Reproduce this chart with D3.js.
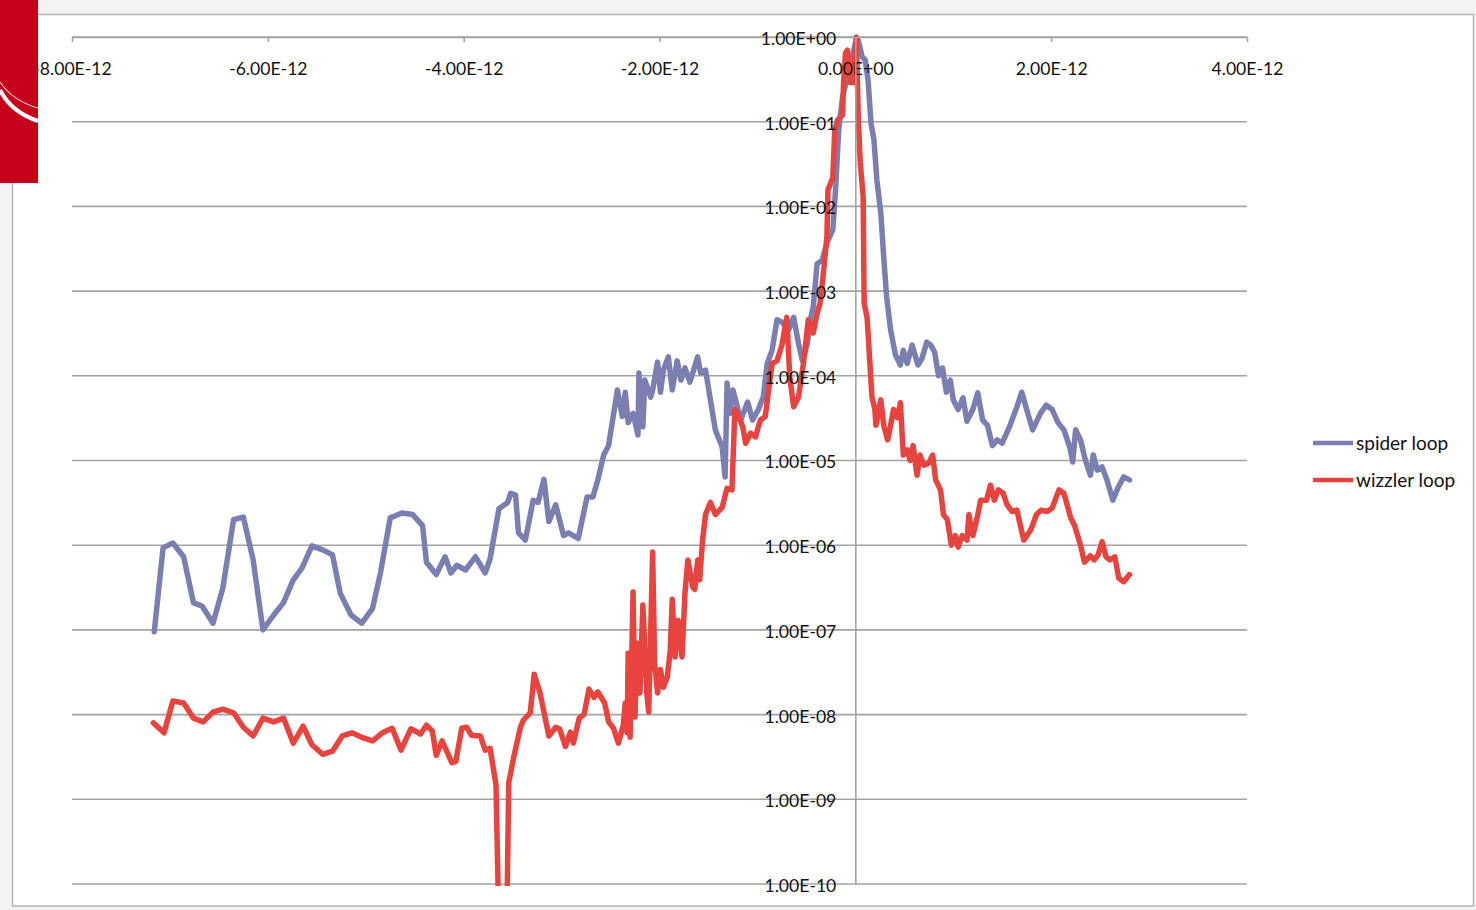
<!DOCTYPE html>
<html>
<head>
<meta charset="utf-8">
<script src="https://cdn.jsdelivr.net/npm/d3@7"></script>
<style>
  body { margin: 0; background: #f3f3f3; }
  svg { display: block; font-family: Lato, 'Open Sans', sans-serif; }
</style>
</head>
<body>
<svg id="chart" width="1476" height="910"></svg>
<script>
// x in picoseconds (axis labels show seconds), y on a log scale
var xTicks = [-8, -6, -4, -2, 0, 2, 4]
var xTickLabels = ['-8.00E-12', '-6.00E-12', '-4.00E-12', '-2.00E-12', '0.00E+00', '2.00E-12', '4.00E-12']
var yTicks = [1, 1e-1, 1e-2, 1e-3, 1e-4, 1e-5, 1e-6, 1e-7, 1e-8, 1e-9, 1e-10]
var yTickLabels = ['1.00E+00', '1.00E-01', '1.00E-02', '1.00E-03', '1.00E-04', '1.00E-05',
  '1.00E-06', '1.00E-07', '1.00E-08', '1.00E-09', '1.00E-10']
var seriesNames = ['spider loop', 'wizzler loop']
var seriesColors = ['#7b7eb0', '#e8443f']

var spider = [
  [-7.16, 9.5e-8], [-7.07, 9.3e-7], [-6.97, 1.06e-6], [-6.86, 7.3e-7], [-6.76, 2.1e-7], [-6.67, 1.9e-7],
  [-6.56, 1.2e-7], [-6.46, 3.1e-7], [-6.35, 2.0e-6], [-6.25, 2.15e-6], [-6.15, 6.7e-7], [-6.05, 1.0e-7],
  [-5.94, 1.5e-7], [-5.84, 2.1e-7], [-5.74, 3.9e-7], [-5.65, 5.4e-7], [-5.55, 9.8e-7], [-5.44, 8.8e-7],
  [-5.34, 7.7e-7], [-5.26, 2.7e-7], [-5.15, 1.5e-7], [-5.04, 1.2e-7], [-4.93, 1.8e-7], [-4.85, 4.7e-7],
  [-4.75, 2.1e-6], [-4.63, 2.4e-6], [-4.52, 2.3e-6], [-4.42, 1.7e-6], [-4.38, 6.3e-7], [-4.28, 4.5e-7],
  [-4.19, 7.3e-7], [-4.13, 4.7e-7], [-4.07, 5.8e-7], [-3.98, 5.1e-7], [-3.88, 7.3e-7], [-3.78, 4.7e-7],
  [-3.73, 6.9e-7], [-3.64, 2.7e-6], [-3.55, 3.2e-6], [-3.52, 4.1e-6], [-3.47, 3.9e-6], [-3.44, 1.4e-6],
  [-3.37, 1.15e-6], [-3.29, 3.4e-6], [-3.24, 3.2e-6], [-3.18, 6.0e-6], [-3.13, 1.9e-6], [-3.06, 3.0e-6],
  [-2.98, 1.3e-6], [-2.93, 1.4e-6], [-2.83, 1.2e-6], [-2.74, 3.7e-6], [-2.68, 3.7e-6], [-2.63, 5.9e-6],
  [-2.57, 1.16e-5], [-2.52, 1.5e-5], [-2.43, 6.8e-5], [-2.38, 3.3e-5], [-2.35, 6.4e-5], [-2.32, 2.8e-5],
  [-2.27, 3.6e-5], [-2.22, 2.0e-5], [-2.21, 1.08e-4], [-2.17, 2.5e-5], [-2.15, 8.9e-5], [-2.09, 5.6e-5],
  [-2.07, 6.8e-5], [-2.02, 1.45e-4], [-1.99, 6.4e-5], [-1.96, 1.17e-4], [-1.91, 1.67e-4], [-1.87, 6.8e-5],
  [-1.82, 1.5e-4], [-1.78, 8.9e-5], [-1.74, 1.24e-4], [-1.69, 8.4e-5], [-1.61, 1.67e-4], [-1.58, 1.08e-4],
  [-1.53, 1.17e-4], [-1.48, 5.2e-5], [-1.43, 2.3e-5], [-1.36, 1.44e-5], [-1.33, 6.4e-6], [-1.31, 8.2e-5],
  [-1.28, 3.6e-5], [-1.25, 6.8e-5], [-1.17, 3.0e-5], [-1.10, 4.9e-5], [-1.05, 3.0e-5], [-0.99, 4.0e-5],
  [-0.94, 5.6e-5], [-0.90, 1.4e-4], [-0.85, 2.0e-4], [-0.80, 4.6e-4], [-0.75, 4.3e-4], [-0.68, 3.5e-4],
  [-0.63, 4.9e-4], [-0.58, 2.4e-4], [-0.54, 1.5e-4], [-0.49, 2.4e-4], [-0.46, 4.6e-4], [-0.43, 6.5e-4],
  [-0.39, 2.1e-3], [-0.34, 2.3e-3], [-0.29, 3.7e-3], [-0.23, 5.3e-3], [-0.20, 1.7e-2], [-0.17, 8.0e-2],
  [-0.13, 1.96e-1], [-0.08, 3.4e-1], [-0.03, 5.8e-1], [0.00, 8.5e-1], [0.03, 9.2e-1], [0.07, 5.8e-1],
  [0.10, 5.4e-1], [0.13, 3.1e-1], [0.16, 9.6e-2], [0.19, 6.1e-2], [0.22, 2.05e-2], [0.26, 8.4e-3],
  [0.29, 2.5e-3], [0.32, 8.5e-4], [0.36, 3.5e-4], [0.41, 1.76e-4], [0.46, 1.34e-4], [0.49, 2.0e-4],
  [0.53, 1.4e-4], [0.58, 2.3e-4], [0.64, 1.34e-4], [0.68, 1.6e-4], [0.73, 2.5e-4], [0.77, 2.3e-4],
  [0.81, 1.9e-4], [0.85, 1.0e-4], [0.89, 1.24e-4], [0.93, 6.4e-5], [0.97, 8.9e-5], [1.00, 5.2e-5],
  [1.05, 4.0e-5], [1.10, 5.5e-5], [1.14, 2.9e-5], [1.20, 4.0e-5], [1.25, 6.3e-5], [1.30, 3.0e-5],
  [1.35, 2.6e-5], [1.40, 1.5e-5], [1.45, 1.75e-5], [1.50, 1.6e-5], [1.58, 2.6e-5], [1.65, 4.3e-5],
  [1.70, 6.4e-5], [1.75, 4.0e-5], [1.81, 2.3e-5], [1.89, 3.6e-5], [1.95, 4.5e-5], [2.01, 4.0e-5],
  [2.07, 2.8e-5], [2.13, 2.3e-5], [2.19, 1.44e-5], [2.22, 9.6e-6], [2.25, 2.3e-5], [2.30, 1.75e-5],
  [2.35, 1.0e-5], [2.40, 6.7e-6], [2.43, 1.16e-5], [2.47, 7.7e-6], [2.52, 8.4e-6], [2.57, 5.9e-6],
  [2.63, 3.4e-6], [2.68, 4.7e-6], [2.74, 6.4e-6], [2.80, 5.9e-6]
]

var wizzler = [
  [-7.17, 8.0e-9], [-7.06, 6.1e-9], [-6.97, 1.45e-8], [-6.86, 1.37e-8], [-6.76, 9.1e-9], [-6.66, 8.2e-9],
  [-6.56, 1.07e-8], [-6.46, 1.16e-8], [-6.35, 1.05e-8], [-6.25, 7.1e-9], [-6.15, 5.6e-9], [-6.05, 9.1e-9],
  [-5.94, 8.2e-9], [-5.84, 9.1e-9], [-5.74, 4.6e-9], [-5.64, 7.3e-9], [-5.55, 4.4e-9], [-5.44, 3.4e-9],
  [-5.34, 3.7e-9], [-5.24, 5.6e-9], [-5.14, 6.1e-9], [-5.04, 5.4e-9], [-4.93, 4.9e-9], [-4.83, 6.1e-9],
  [-4.73, 6.9e-9], [-4.64, 3.8e-9], [-4.54, 6.8e-9], [-4.44, 5.9e-9], [-4.38, 7.5e-9], [-4.32, 6.4e-9],
  [-4.28, 3.3e-9], [-4.22, 4.9e-9], [-4.12, 2.7e-9], [-4.08, 2.8e-9], [-4.02, 6.9e-9], [-3.97, 7.1e-9],
  [-3.92, 5.7e-9], [-3.83, 5.6e-9], [-3.78, 3.8e-9], [-3.73, 4.0e-9], [-3.67, 1.48e-9], [-3.64, 3e-11],
  [-3.56, 3e-11], [-3.54, 1.56e-9], [-3.49, 3.1e-9], [-3.42, 7.1e-9], [-3.39, 8.6e-9], [-3.32, 1.05e-8],
  [-3.28, 3.0e-8], [-3.22, 1.8e-8], [-3.13, 5.6e-9], [-3.06, 7.1e-9], [-3.02, 6.8e-9], [-2.96, 4.2e-9],
  [-2.91, 6.2e-9], [-2.88, 4.6e-9], [-2.82, 9.1e-9], [-2.77, 1.0e-8], [-2.72, 2.0e-8], [-2.67, 1.6e-8],
  [-2.63, 1.85e-8], [-2.56, 1.37e-8], [-2.52, 8.2e-9], [-2.47, 6.9e-9], [-2.42, 4.6e-9], [-2.37, 7.5e-9],
  [-2.35, 1.37e-8], [-2.33, 6.1e-9], [-2.32, 5.3e-8], [-2.30, 5.4e-9], [-2.27, 2.8e-7], [-2.25, 9.4e-9],
  [-2.23, 7.0e-8], [-2.20, 1.8e-8], [-2.17, 1.97e-7], [-2.13, 1.8e-8], [-2.11, 1.07e-8], [-2.07, 8.3e-7],
  [-2.05, 4.1e-8], [-2.02, 1.8e-8], [-1.99, 3.4e-8], [-1.96, 2.1e-8], [-1.92, 2.8e-8], [-1.89, 5.8e-8],
  [-1.87, 2.3e-7], [-1.84, 4.8e-8], [-1.81, 1.3e-7], [-1.77, 4.8e-8], [-1.74, 2.7e-7], [-1.71, 6.7e-7],
  [-1.66, 3.2e-7], [-1.64, 3.0e-7], [-1.61, 6.7e-7], [-1.59, 3.9e-7], [-1.56, 1.15e-6], [-1.53, 2.3e-6],
  [-1.48, 3.2e-6], [-1.43, 2.3e-6], [-1.36, 2.8e-6], [-1.31, 4.7e-6], [-1.26, 4.5e-6], [-1.23, 4.0e-5],
  [-1.20, 3.5e-5], [-1.15, 2.5e-5], [-1.12, 1.6e-5], [-1.07, 2.1e-5], [-1.02, 1.9e-5], [-0.97, 3.0e-5],
  [-0.92, 3.3e-5], [-0.85, 1.4e-4], [-0.80, 1.5e-4], [-0.75, 2.3e-4], [-0.70, 4.9e-4], [-0.67, 9.7e-5],
  [-0.63, 4.3e-5], [-0.58, 5.6e-5], [-0.53, 1.4e-4], [-0.48, 4.6e-4], [-0.43, 3.2e-4], [-0.39, 5.5e-4],
  [-0.36, 7.2e-4], [-0.33, 1.47e-3], [-0.29, 4.4e-3], [-0.28, 1.56e-2], [-0.23, 2.2e-2], [-0.21, 8.0e-2],
  [-0.18, 1.05e-1], [-0.13, 1.2e-1], [-0.12, 2.9e-1], [-0.10, 6.5e-1], [-0.08, 7.0e-1], [-0.05, 2.9e-1],
  [-0.02, 2.9e-1], [0.01, 1.0], [0.03, 1.14e-1], [0.05, 3.3e-2], [0.08, 1.3e-2], [0.09, 7.2e-4],
  [0.12, 4.9e-4], [0.17, 5.6e-5], [0.20, 4.0e-5], [0.21, 2.6e-5], [0.26, 5.2e-5], [0.29, 2.6e-5],
  [0.33, 1.75e-5], [0.36, 2.6e-5], [0.39, 4.0e-5], [0.43, 3.2e-5], [0.46, 4.8e-5], [0.49, 1.16e-5],
  [0.53, 1.33e-5], [0.56, 1.0e-5], [0.59, 1.5e-5], [0.63, 6.7e-6], [0.66, 1.16e-5], [0.70, 8.8e-6],
  [0.75, 9.3e-6], [0.79, 1.16e-5], [0.82, 5.9e-6], [0.87, 4.5e-6], [0.90, 2.3e-6], [0.94, 2.0e-6],
  [0.98, 1.0e-6], [1.02, 1.3e-6], [1.05, 9.5e-7], [1.09, 1.3e-6], [1.14, 1.15e-6], [1.16, 2.3e-6],
  [1.20, 1.3e-6], [1.24, 2.0e-6], [1.28, 3.4e-6], [1.34, 3.4e-6], [1.38, 5.1e-6], [1.42, 3.4e-6],
  [1.46, 4.5e-6], [1.51, 4.1e-6], [1.55, 3.0e-6], [1.60, 2.5e-6], [1.65, 2.6e-6], [1.72, 1.15e-6],
  [1.79, 1.5e-6], [1.85, 2.3e-6], [1.90, 2.6e-6], [1.96, 2.5e-6], [2.01, 2.75e-6], [2.08, 4.5e-6],
  [2.13, 4.1e-6], [2.20, 2.1e-6], [2.24, 1.7e-6], [2.30, 1.0e-6], [2.34, 6.3e-7], [2.40, 7.5e-7],
  [2.44, 6.7e-7], [2.48, 7.7e-7], [2.52, 1.1e-6], [2.56, 7.3e-7], [2.60, 6.7e-7], [2.65, 7.3e-7],
  [2.69, 4.1e-7], [2.74, 3.7e-7], [2.80, 4.5e-7]
]

var svg = d3.select('#chart')
var plot = {left: 72, right: 1247, top: 37, bottom: 884}
var gridColor = '#a3a3a3'
var FONT = "Lato, 'Open Sans', sans-serif"

// chart frame
svg.append('rect')
  .attr('x', 12.5).attr('y', 14.5).attr('width', 1461).attr('height', 891.5)
  .attr('fill', '#fff').attr('stroke', '#b4b4b4').attr('stroke-width', 1.5)

var x = d3.scaleLinear().domain([-8, 4]).range([plot.left, plot.right])
var y = d3.scaleLog().domain([1e-10, 1]).range([plot.bottom, plot.top])

// horizontal gridlines, one per decade
svg.append('g').selectAll('line').data(yTicks).join('line')
  .attr('x1', plot.left).attr('x2', plot.right)
  .attr('y1', function(d){ return y(d) }).attr('y2', function(d){ return y(d) })
  .attr('stroke', gridColor).attr('stroke-width', 1.6)

// series lines, clipped to the plot area like the spreadsheet does
svg.append('clipPath').attr('id', 'plotClip').append('rect')
  .attr('x', plot.left).attr('y', plot.top - 4)
  .attr('width', plot.right - plot.left).attr('height', plot.bottom - plot.top + 6)

var line = d3.line().x(function(d){ return x(d[0]) }).y(function(d){ return y(d[1]) })
var lines = svg.append('g').attr('clip-path', 'url(#plotClip)')
;[spider, wizzler].forEach(function(s, i){
  lines.append('path').attr('d', line(s))
    .attr('fill', 'none').attr('stroke', seriesColors[i]).attr('stroke-width', 5.5)
    .attr('stroke-linejoin', 'round').attr('stroke-linecap', 'round')
})

// axes drawn after the data: the labels sit on top of the lines
// x axis runs along the top (y = 1), labels just under it
var xAxis = svg.append('g').attr('transform', 'translate(0,' + plot.top + ')')
  .call(d3.axisBottom(x).tickValues(xTicks)
    .tickFormat(function(d, i){ return xTickLabels[i] })
    .tickSizeInner(5).tickSizeOuter(0).tickPadding(21))

// y axis crosses at x = 0
var yAxis = svg.append('g').attr('transform', 'translate(' + x(0) + ',0)')
  .call(d3.axisLeft(y).tickValues(yTicks)
    .tickFormat(function(d, i){ return yTickLabels[i] })
    .tickSizeInner(0).tickSizeOuter(0).tickPadding(19))

svg.selectAll('.domain, .tick line').attr('stroke', gridColor).attr('stroke-width', 1.6)
svg.selectAll('.tick text').attr('font-family', FONT).attr('font-size', 17.6).attr('fill', '#111')
yAxis.selectAll('.tick text').attr('dy', '0.42em')
xAxis.attr('font-size', null).attr('font-family', null)
yAxis.attr('font-size', null).attr('font-family', null)

// legend
var legend = svg.append('g').attr('transform', 'translate(1313,443)')
seriesNames.forEach(function(n, i){
  var g = legend.append('g').attr('transform', 'translate(0,' + (i * 37) + ')')
  g.append('line').attr('x1', 0).attr('x2', 40).attr('y1', 0).attr('y2', 0)
    .attr('stroke', seriesColors[i]).attr('stroke-width', 4.5)
  g.append('text').text(n).attr('x', 43).attr('y', 6.5)
    .attr('font-family', FONT).attr('font-size', 19).attr('fill', '#111')
})

// red corner tab of the slide template
var tab = svg.append('g')
tab.append('rect').attr('x', 0).attr('y', 0).attr('width', 38).attr('height', 183).attr('fill', '#c6001b')
tab.append('path').attr('d', 'M0,82 Q13,101 38,108').attr('fill', 'none')
  .attr('stroke', '#fff').attr('stroke-width', 1.2).attr('opacity', 0.75)
tab.append('path').attr('d', 'M0,90 Q11,112 38,121').attr('fill', 'none')
  .attr('stroke', '#fff').attr('stroke-width', 4)
</script>
</body>
</html>
